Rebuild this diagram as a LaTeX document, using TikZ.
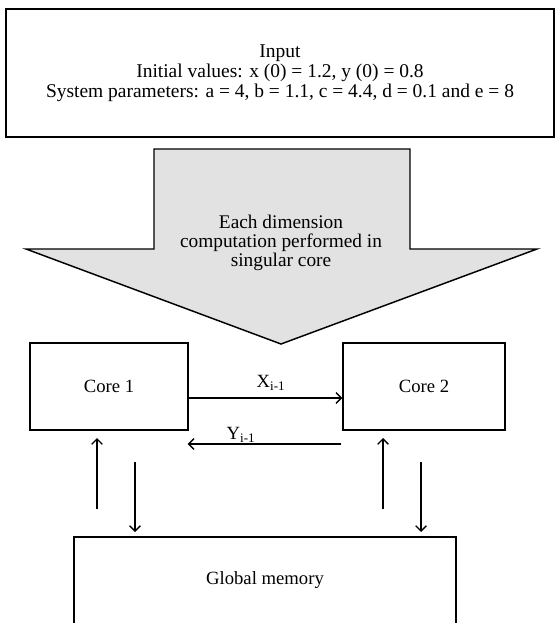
\documentclass[tikz,border=0pt]{standalone}
\usepackage{fontspec}
\setmainfont{Liberation Serif}
\usepackage{xcolor}
\usetikzlibrary{arrows.meta,calc}

\definecolor{arrowgray}{RGB}{226,226,226}

\tikzset{
  corebox/.style={draw,line width=1.1pt,minimum width=118.5pt,minimum height=65.25pt,inner sep=0.75pt},
  flow/.style={line width=0.8pt,-{Straight Barb[length=4pt,width=8pt,line width=1pt]}},
}

\begin{document}
\begin{tikzpicture}[x=0.75pt,y=0.75pt,yscale=-1,xscale=1,font=\fontsize{14}{15}\selectfont]

\useasboundingbox (0,0) rectangle (555,623);
\clip (0,0) rectangle (555,623);

% input box
\node [draw,line width=1.1pt,minimum width=411pt,minimum height=96pt,align=center,font=\fontsize{14.6}{15}\selectfont] (input) at (280,73)
  {Input\\Initial values: x (0) = 1.2, y (0) = 0.8\\System parameters: a = 4, b = 1.1, c = 4.4, d = 0.1 and e = 8};

% big arrow
\draw [line width=1.1pt,fill=arrowgray] (154,149) -- (410,149) -- (410,249) -- (537,249) -- (281,344) -- (26,249) -- (154,249) -- cycle ;
\node [align=center,font=\fontsize{14.5}{14.25}\selectfont] (task) at (281,243)
  {Each dimension\\computation performed in\\singular core};

% cores
\node [corebox] (core1) at (109,386.5) {Core 1};
\node [corebox,minimum width=121.5pt] (core2) at (424,386.5) {Core 2};

\draw [flow] ($(core1.east)+(0,11.5)$) -- ($(core2.west)+(0,11.5)$) ;
\draw [flow] ($(core2.west)+(-1,57.5)$) -- ($(core1.east)+(-1,57.5)$) ;
\node (xlab) at (271,383) {X\textsubscript{i-1}};
\node (ylab) at (241,435) {Y\textsubscript{i-1}};

% global memory
\node [draw,line width=1.1pt,minimum width=286.5pt,minimum height=75pt] (mem) at (265,587) {};
\node (memlab) at (265,580) {Global memory};

\coordinate (up1) at (97,509);
\coordinate (up1t) at (97,438);
\coordinate (dn1) at (135,462);
\coordinate (dn1t) at (135,532);
\coordinate (up2) at (383,509);
\coordinate (up2t) at (383,438);
\coordinate (dn2) at (421,462);
\coordinate (dn2t) at (421,532);

\draw [flow] (up1) -- (up1t) ;
\draw [flow] (dn1) -- (dn1t) ;
\draw [flow] (up2) -- (up2t) ;
\draw [flow] (dn2) -- (dn2t) ;

\end{tikzpicture}
\end{document}
